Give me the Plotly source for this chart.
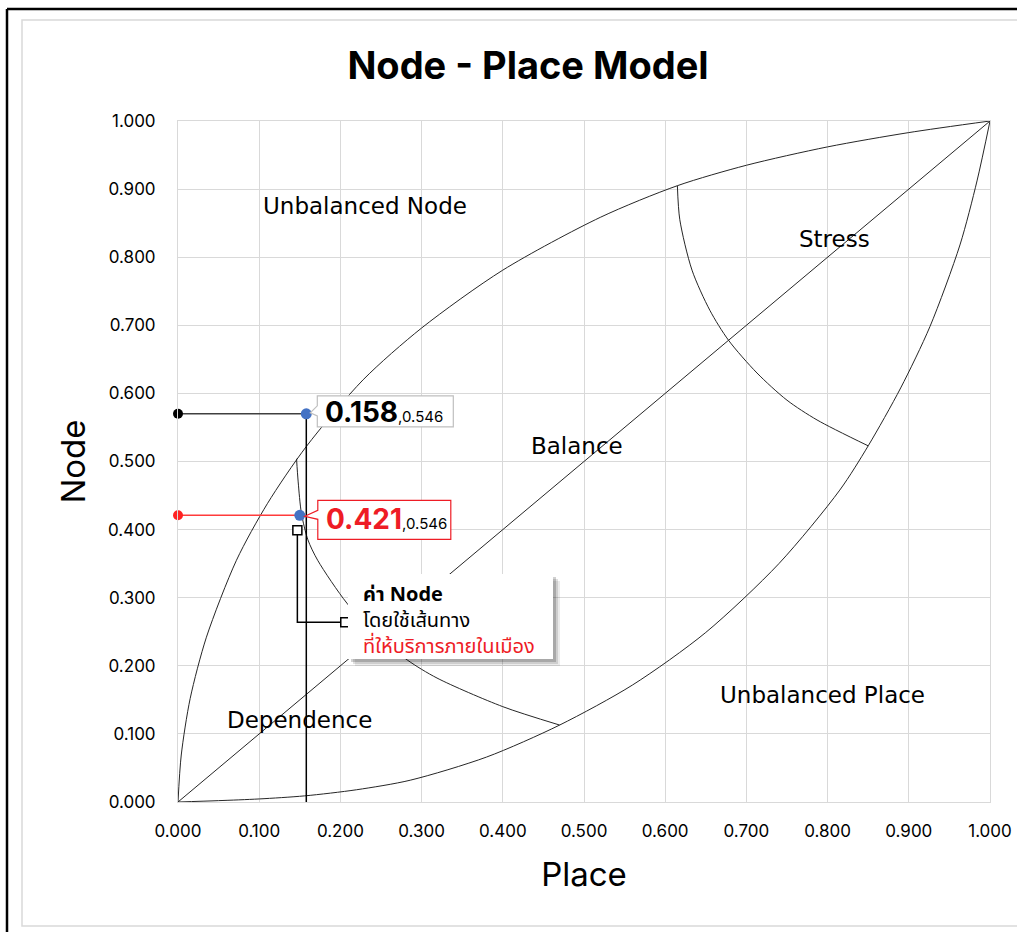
import plotly.graph_objects as go

# ---- data -------------------------------------------------------------
# Upper boundary of the node-place "lens"
upper_x = [0.0, 0.004, 0.015, 0.035, 0.072, 0.110, 0.158, 0.228, 0.300, 0.400,
           0.520, 0.615, 0.700, 0.800, 0.900, 1.0]
upper_y = [0.0, 0.069, 0.152, 0.242, 0.355, 0.438, 0.522, 0.620, 0.696, 0.781,
           0.8585, 0.905, 0.935, 0.962, 0.983, 1.0]
# Lower boundary of the lens
lower_x = [0.0, 0.050, 0.100, 0.156, 0.220, 0.286, 0.380, 0.470, 0.560, 0.650,
           0.740, 0.815, 0.850, 0.890, 0.926, 0.963, 0.984, 1.0]
lower_y = [0.0, 0.002, 0.0045, 0.009, 0.018, 0.032, 0.066, 0.113, 0.172, 0.249,
           0.350, 0.458, 0.523, 0.608, 0.698, 0.818, 0.912, 1.0]
# Balance diagonal
diag_x = [0.0, 1.0]
diag_y = [0.0, 1.0]
# Stress arc (upper right)
stress_x = [0.615, 0.618, 0.633, 0.655, 0.678, 0.713, 0.750, 0.787, 0.850]
stress_y = [0.905, 0.855, 0.781, 0.722, 0.678, 0.630, 0.590, 0.561, 0.523]
# Dependence arc (lower left)
dep_x = [0.146, 0.148, 0.152, 0.160, 0.172, 0.208, 0.245, 0.283, 0.319, 0.400, 0.470]
dep_y = [0.504, 0.470, 0.424, 0.385, 0.355, 0.292, 0.245, 0.208, 0.182, 0.140, 0.113]

# Station values
place_val = 0.158
node_all = 0.570
node_city_x = 0.150
node_city = 0.421
label_second = "0.546"
axis_floor = -0.007

# Marker of the note connector
note_a = (0.147, 0.399)
note_b = (0.206, 0.264)

ticks = [0.0, 0.1, 0.2, 0.3, 0.4, 0.5, 0.6, 0.7, 0.8, 0.9, 1.0]
tick_text = [f"{t:.3f}" for t in ticks]

regions = [
    ("Unbalanced Node", 0.230, 0.875),
    ("Stress", 0.808, 0.827),
    ("Balance", 0.491, 0.523),
    ("Unbalanced Place", 0.794, 0.157),
    ("Dependence", 0.150, 0.120),
]

# ---- layout constants -------------------------------------------------
W, H = 1017, 932
ML, MR, MT, MB = 178, 27, 121, 130
PW, PH = W - ML - MR, H - MT - MB
FONT = "Inter, 'Open Sans', sans-serif"
WIDE = "'DejaVu Sans', Inter, sans-serif"
THAI = "'Noto Sans Thai', 'Noto Sans', Inter, sans-serif"
LINE = "#262626"
BLUE = "#4472C4"
RED = "#EE1C25"


def px(x):
    return (x - ML) / PW


def py(y):
    return (H - MB - y) / PH


fig = go.Figure()


def curve(xs, ys, shape="spline", color=LINE, width=1):
    fig.add_trace(go.Scatter(x=xs, y=ys, mode="lines",
                             line=dict(color=color, width=width, shape=shape,
                                       smoothing=0.8),
                             hoverinfo="skip", showlegend=False))


curve(upper_x, upper_y)
curve(lower_x, lower_y)
curve(diag_x, diag_y, shape="linear")
curve(stress_x, stress_y)
curve(dep_x, dep_y)

# guide lines to the axes
fig.add_trace(go.Scatter(x=[0, place_val], y=[node_all, node_all], mode="lines",
                         line=dict(color="#404040", width=1.5),
                         hoverinfo="skip", showlegend=False))
fig.add_trace(go.Scatter(x=[place_val, place_val], y=[node_all, axis_floor], mode="lines",
                         line=dict(color="#000000", width=1.5), cliponaxis=False,
                         hoverinfo="skip", showlegend=False))
fig.add_trace(go.Scatter(x=[0, node_city_x], y=[node_city, node_city], mode="lines",
                         line=dict(color="#FF3B3B", width=1.5),
                         hoverinfo="skip", showlegend=False))
# note connector
fig.add_trace(go.Scatter(x=[note_a[0], note_a[0], note_b[0]],
                         y=[note_a[1], note_b[1], note_b[1]], mode="lines",
                         line=dict(color="#000000", width=1.5),
                         hoverinfo="skip", showlegend=False))
fig.add_trace(go.Scatter(x=[note_a[0], note_b[0]], y=[note_a[1], note_b[1]],
                         mode="markers", cliponaxis=False,
                         marker=dict(symbol="square", size=9, color="white",
                                     line=dict(color="#000000", width=1.5)),
                         hoverinfo="skip", showlegend=False))
# end dots
fig.add_trace(go.Scatter(x=[0, place_val], y=[node_all, axis_floor], mode="markers",
                         cliponaxis=False, marker=dict(size=10, color="#000000"),
                         hoverinfo="skip", showlegend=False))
fig.add_trace(go.Scatter(x=[0], y=[node_city], mode="markers", cliponaxis=False,
                         marker=dict(size=10, color="#FF2222"),
                         hoverinfo="skip", showlegend=False))
fig.add_trace(go.Scatter(x=[place_val, node_city_x], y=[node_all, node_city],
                         mode="markers", cliponaxis=False,
                         marker=dict(size=11, color=BLUE),
                         hoverinfo="skip", showlegend=False))

shapes = []
# page frame
shapes.append(dict(type="line", xref="paper", yref="paper", x0=px(7), x1=px(1040),
                   y0=py(9), y1=py(9), line=dict(color="#000", width=2.5)))
shapes.append(dict(type="line", xref="paper", yref="paper", x0=px(7), x1=px(7),
                   y0=py(9), y1=py(960), line=dict(color="#000", width=2.5)))
shapes.append(dict(type="rect", xref="paper", yref="paper", x0=px(22), x1=px(1040),
                   y0=py(20), y1=py(926), line=dict(color="#d9d9d9", width=1.5)))

# value callouts with a pointer towards their point
shapes.append(dict(type="path", xref="x", yref="y", xsizemode="pixel", ysizemode="pixel",
                   xanchor=place_val, yanchor=node_all,
                   path="M 11,18 L 147,18 L 147,-13 L 11,-13 L 11,-2 L 4,1 L 11,8 Z",
                   fillcolor="white", line=dict(color="#BFBFBF", width=1.2), layer="above"))
shapes.append(dict(type="path", xref="x", yref="y", xsizemode="pixel", ysizemode="pixel",
                   xanchor=node_city_x, yanchor=node_city,
                   path="M 18,15 L 151,15 L 151,-24 L 18,-24 L 18,-4 L 5,-1 L 18,5 Z",
                   fillcolor="white", line=dict(color=RED, width=1.2), layer="above"))

# note box with soft shadow
bx0, bx1, by0, by1 = px(348), px(553), py(574), py(659)
for off, op in [(7, 0.08), (5, 0.12), (3, 0.18)]:
    shapes.append(dict(type="rect", xref="paper", yref="paper",
                       x0=bx0 + off / PW, x1=bx1 + off / PW,
                       y0=by0 - off / PH, y1=by1 - off / PH,
                       fillcolor="#000", opacity=op, line=dict(width=0), layer="above"))
shapes.append(dict(type="rect", xref="paper", yref="paper", x0=bx0, x1=bx1, y0=by0, y1=by1,
                   fillcolor="white", line=dict(width=0), layer="above"))

annotations = []
for txt, x, y in regions:
    annotations.append(dict(x=x, y=y, xref="x", yref="y", text=txt, showarrow=False,
                            font=dict(family=WIDE, size=23, color="#000")))

annotations.append(dict(x=place_val, y=node_all, xref="x", yref="y", xanchor="left",
                        yanchor="middle", xshift=17, yshift=2, showarrow=False,
                        text=f"<b>{place_val:.3f}</b><span style='font-size:15px'>,{label_second}</span>",
                        font=dict(family=FONT, size=28, color="#000")))
annotations.append(dict(x=node_city_x, y=node_city, xref="x", yref="y", xanchor="left",
                        yanchor="middle", xshift=24, yshift=-4, showarrow=False,
                        text=f"<b>{node_city:.3f}</b><span style='font-size:15px;color:#000'>,{label_second}</span>",
                        font=dict(family=FONT, size=28, color=RED)))

annotations.append(dict(x=px(361), y=py(621), xref="paper", yref="paper", xanchor="left",
                        yanchor="middle", showarrow=False, align="left",
                        text="<b>ค่า Node</b><br>โดยใช้เส้นทาง<br>"
                             f"<span style='color:{RED}'>ที่ให้บริการภายในเมือง</span>",
                        font=dict(family=THAI, size=20, color="#000")))

fig.update_layout(
    width=W, height=H,
    margin=dict(l=ML, r=MR, t=MT, b=MB, autoexpand=False),
    paper_bgcolor="white", plot_bgcolor="white",
    title=dict(text="<b>Node - Place Model</b>", xref="paper", x=px(528), xanchor="center",
               yref="container", y=1 - 66 / H, yanchor="middle",
               font=dict(family=FONT, size=38, color="#000")),
    xaxis=dict(range=[0, 1], tickvals=ticks, ticktext=tick_text, showgrid=True,
               gridcolor="#d9d9d9", gridwidth=1, zeroline=False, showline=True,
               linecolor="#d9d9d9", mirror=True, ticks="", ticklabelstandoff=14,
               automargin=False,
               tickfont=dict(family=FONT, size=17, color="#000"),
               title=dict(text="Place", standoff=22,
                          font=dict(family=FONT, size=33, color="#000")),
               fixedrange=True),
    yaxis=dict(range=[0, 1], tickvals=ticks, ticktext=tick_text, showgrid=True,
               gridcolor="#d9d9d9", gridwidth=1, zeroline=False, showline=True,
               linecolor="#d9d9d9", mirror=True, ticks="", ticklabelstandoff=18,
               automargin=False,
               tickfont=dict(family=FONT, size=17, color="#000"),
               title=dict(text="Node", standoff=12,
                          font=dict(family=FONT, size=33, color="#000")),
               fixedrange=True),
    shapes=shapes,
    annotations=annotations,
    showlegend=False,
)

fig.write_html("out.html")
